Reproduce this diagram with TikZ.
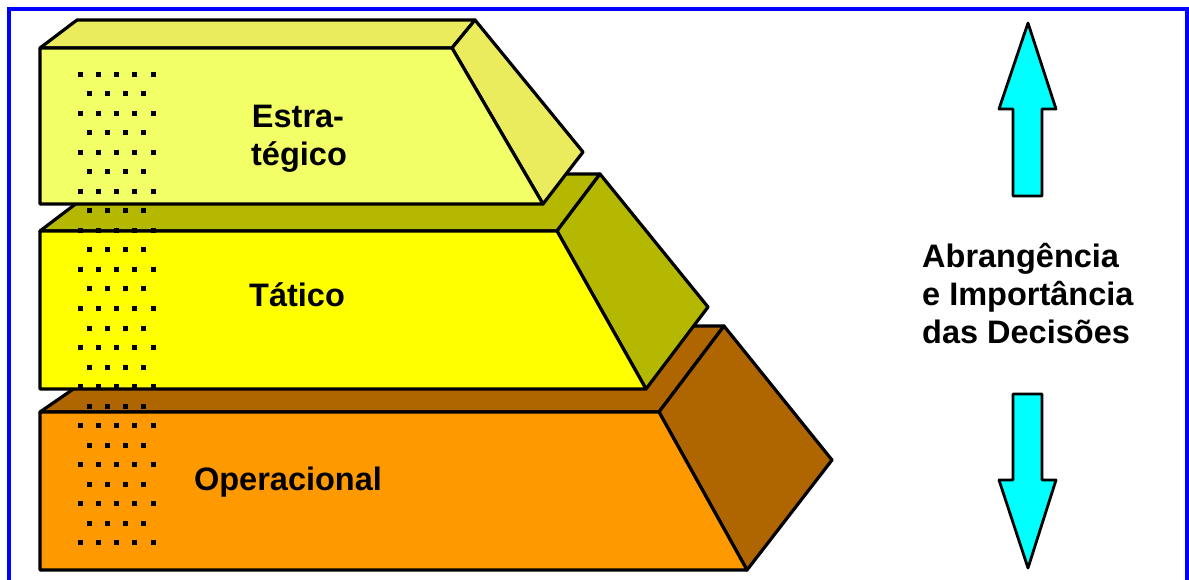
\documentclass[tikz,border=0pt]{standalone}
\usepackage{fontspec}
\setmainfont{Liberation Sans}
\definecolor{topFront}{HTML}{F2FF66}
\definecolor{topSide}{HTML}{EBEB5E}
\definecolor{midFront}{HTML}{FFFF00}
\definecolor{midSide}{HTML}{B5B800}
\definecolor{botFront}{HTML}{FF9900}
\definecolor{botSide}{HTML}{B06600}
\definecolor{arrowCyan}{HTML}{00FFFF}
\begin{document}
\begin{tikzpicture}[x=1pt,y=-1pt,
  face/.style={draw=black,line width=3.2pt,line join=round},
  bigarrow/.style={draw=black,fill=arrowCyan,line width=2.8pt,line join=round},
  lbl/.style={font=\fontsize{32.5}{38}\selectfont\bfseries,inner sep=0pt,anchor=base},
  dot/.style={fill=black}]
\useasboundingbox (0,0) rectangle (1189,579);
\fill[white] (0,0) rectangle (1189,579);
\draw[blue,line width=4pt] (9,9) rectangle (1187,620);
% bottom block (Operacional)
\filldraw[face,fill=botSide] (40,412) -- (165,326) -- (724,326) -- (659,412) -- cycle;
\filldraw[face,fill=botSide] (659,412) -- (724,326) -- (832,460) -- (747,570) -- cycle;
\filldraw[face,fill=botFront] (40,412) -- (659,412) -- (747,570) -- (40,570) -- cycle;
% middle block (Tatico)
\filldraw[face,fill=midSide] (40,231) -- (115,174) -- (600,174) -- (557,231) -- cycle;
\filldraw[face,fill=midSide] (557,231) -- (600,174) -- (708,307) -- (646,389) -- cycle;
\filldraw[face,fill=midFront] (40,231) -- (557,231) -- (646,389) -- (40,389) -- cycle;
% top block (Estrategico)
\filldraw[face,fill=topSide] (40,48) -- (77,20) -- (475,20) -- (452,48) -- cycle;
\filldraw[face,fill=topSide] (452,48) -- (475,20) -- (583,152) -- (543,204) -- cycle;
\filldraw[face,fill=topFront] (40,48) -- (452,48) -- (543,204) -- (40,204) -- cycle;
% dots
\foreach \i in {0,2,...,24}
  \foreach \x in {80,98.25,116.5,134.75,153}
    \fill[dot] ({\x-2.5},{74+\i*19.54-2.5}) rectangle ++(5,5);
\foreach \i in {1,3,...,23}
  \foreach \x in {89,107.25,125.5,143.75}
    \fill[dot] ({\x-2.5},{74+\i*19.54-2.5}) rectangle ++(5,5);
% labels
\node[lbl] (estra) at (298,127) {Estra-};
\node[lbl] (tegico) at (299,165) {tégico};
\node[lbl] (tatico) at (297,306) {Tático};
\node[lbl] (oper) at (288,490) {Operacional};
\node[lbl,anchor=base west] (abr) at (922,267) {Abrangência};
\node[lbl,anchor=base west] (imp) at (922,305) {e Importância};
\node[lbl,anchor=base west] (dec) at (922,343) {das Decisões};
% arrows
\draw[bigarrow] (1028,23) -- (1056,109) -- (1042,109) -- (1042,196) -- (1013,196) -- (1013,109) -- (999,109) -- cycle;
\draw[bigarrow] (1013,394) -- (1042,394) -- (1042,480) -- (1056,480) -- (1028,568) -- (999,480) -- (1013,480) -- cycle;
\end{tikzpicture}
\end{document}
